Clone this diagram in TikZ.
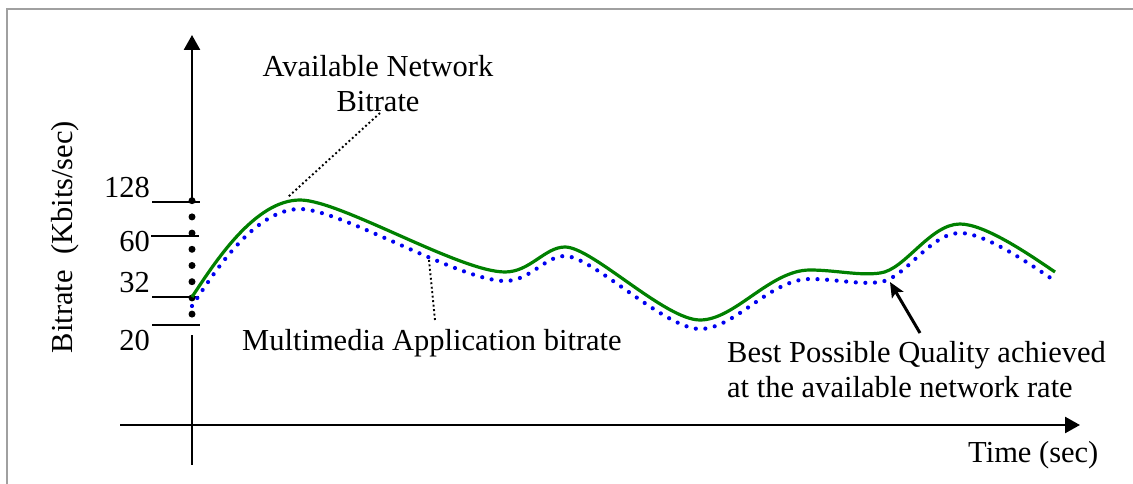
\documentclass[tikz,border=0pt]{standalone}
\usepackage{fontspec}
\setmainfont{Liberation Serif}
\usetikzlibrary{arrows.meta}
\definecolor{framegray}{RGB}{160,160,160}
\definecolor{netgreen}{RGB}{0,128,0}
\definecolor{appblue}{RGB}{0,0,240}
\tikzset{
  lbl/.style={font=\fontsize{30.5}{35}\selectfont, inner sep=0pt},
  axisline/.style={line width=2.6pt, black},
  tickline/.style={line width=2.2pt, black},
  leader/.style={line width=1.9pt, dash pattern=on 1.9pt off 2.6pt, black},
  ydot/.style={circle, fill=black, inner sep=0pt, minimum size=7pt},
  netcurve/.style={line width=3.2pt, netgreen},
  appcurve/.style={line width=4.2pt, appblue, line cap=round, dash pattern=on 0pt off 9.6pt},
}
\newcommand{\ratecurve}{(192,297) .. controls (215,262) and (255,200) .. (300,200)
  .. controls (340,200) and (460,272) .. (505,272)
  .. controls (530,272) and (545,247) .. (565,247)
  .. controls (592,247) and (665,320) .. (700,320)
  .. controls (735,320) and (770,270) .. (810,270)
  .. controls (835,270) and (860,276) .. (880,273)
  .. controls (905,270) and (930,224) .. (960,224)
  .. controls (985,224) and (1030,255) .. (1055,272)}
\begin{document}
\begin{tikzpicture}[x=1pt, y=-1pt]
\useasboundingbox (0,0) rectangle (1133,484);
% frame
\draw[framegray, line width=2.2pt] (7,490) -- (7,9) -- (1140,9);

% axes
\coordinate (ytop) at (192,35);
\coordinate (yupper) at (192,200);
\coordinate (ylow1) at (192,335);
\coordinate (ylow2) at (192,465);
\draw[axisline, -{Triangle[length=15pt,width=16pt]}] (yupper) -- (ytop);
\draw[axisline] (ylow1) -- (ylow2);
\coordinate (xl) at (120,425);
\coordinate (xr) at (1080,425);
\draw[axisline, -{Triangle[length=15pt,width=16pt]}] (xl) -- (xr);

% ticks
\draw[tickline] (152,202) -- (200,202);
\draw[tickline] (151,236) -- (199,236);
\draw[tickline] (152,297) -- (199,297);
\draw[tickline] (152,325) -- (200,325);
\node[lbl, anchor=base east] (t128) at (150,197) {128};
\node[lbl, anchor=base east] (t60) at (150,251) {60};
\node[lbl, anchor=base east] (t32) at (150,292) {32};
\node[lbl, anchor=base east] (t20) at (150,350) {20};

% dots on y axis
\foreach \k in {0,...,7} {
  \node[ydot] (yd\k) at (192,{200.7+16.2*\k}) {};
}

% curves
\draw[netcurve] \ratecurve;
\begin{scope}[yshift=-9pt]
\draw[appcurve] \ratecurve;
\end{scope}

% labels
\node[lbl, align=center, anchor=base] (avail) at (378,112) {Available Network\\Bitrate};
\coordinate (availend) at (380,113);
\coordinate (availpt) at (288,197);
\draw[leader] (availend) -- (availpt);

\node[lbl, anchor=base west] (multi) at (242,350) {Multimedia Application bitrate};
\coordinate (multiend) at (435,320);
\coordinate (multipt) at (429,260);
\draw[leader] (multiend) -- (multipt);

\node[lbl, align=left, anchor=base west] (best) at (727,397) {Best Possible Quality achieved\\at the available network rate};
\coordinate (bestend) at (920,333);
\coordinate (bestpt) at (890,282);
\draw[line width=3pt, -{Stealth[length=15pt,width=13pt,inset=3pt]}] (bestend) -- (bestpt);

\node[lbl, anchor=base west] (time) at (968,462) {Time (sec)};
\node[lbl, rotate=90, anchor=base] (bitrate) at (72,237) {Bitrate~~(Kbits/sec)};
\end{tikzpicture}
\end{document}
